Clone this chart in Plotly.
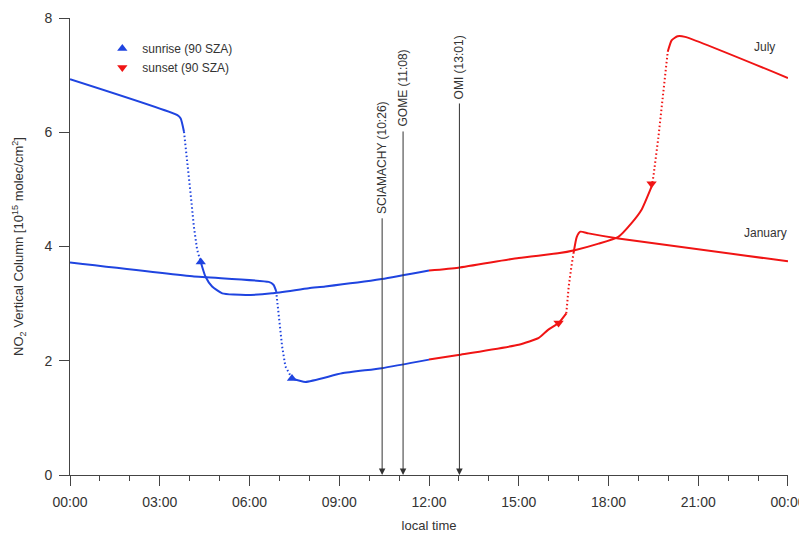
import plotly.graph_objects as go

BLUE = '#1f44e0'
RED = '#f01414'

# July curve (hours, NO2 VCD in 1e15 molec/cm2)
jul_am_t = [0, 3.59, 3.70, 3.81]
jul_am_v = [6.93, 6.30, 6.24, 6.01]
jul_rise_t = [3.81, 3.90, 4.03, 4.14, 4.25, 4.37]
jul_rise_v = [6.01, 5.51, 4.93, 4.35, 3.94, 3.73]
jul_day_t = [4.37, 4.53, 4.75, 5.09, 5.87, 6.75, 7.98, 8.53, 10.42, 12.0]
jul_day_v = [3.73, 3.47, 3.30, 3.18, 3.15, 3.18, 3.27, 3.30, 3.43, 3.58]
jul_pm_t = [12.0, 12.98, 15.0, 16.31, 16.9, 17.67, 18.33, 18.77, 19.1, 19.44]
jul_pm_v = [3.58, 3.63, 3.80, 3.88, 3.94, 4.05, 4.17, 4.41, 4.64, 5.05]
jul_set_t = [19.44, 19.5, 19.67, 19.83, 19.98]
jul_set_v = [5.05, 5.22, 5.92, 6.68, 7.41]
jul_night_t = [19.98, 20.11, 20.31, 20.56, 24.0]
jul_night_v = [7.41, 7.61, 7.68, 7.67, 6.95]

# January curve
jan_am_t = [0, 4.09, 6.64, 6.80, 6.89]
jan_am_v = [3.72, 3.48, 3.38, 3.33, 3.22]
jan_rise_t = [6.89, 7.0, 7.09, 7.2, 7.42]
jan_rise_v = [3.22, 2.71, 2.25, 1.90, 1.69]
jan_day_t = [7.42, 7.87, 9.09, 10.42, 12.0]
jan_day_v = [1.69, 1.63, 1.78, 1.87, 2.02]
jan_pm_t = [12.0, 12.98, 15.0, 15.67, 15.98, 16.33, 16.59]
jan_pm_v = [2.02, 2.10, 2.28, 2.40, 2.54, 2.66, 2.83]
jan_set_t = [16.59, 16.67, 16.76, 16.83]
jan_set_v = [2.83, 3.30, 3.65, 3.88]
jan_night_t = [16.83, 16.94, 17.06, 17.33, 18.33, 24.0]
jan_night_v = [3.88, 4.17, 4.26, 4.23, 4.14, 3.74]

# sunrise / sunset (90 SZA) markers
rise_t = [4.37, 7.42]
rise_v = [3.73, 1.69]
set_t = [16.33, 19.44]
set_v = [2.66, 5.10]

# satellite overpass times
sat_names = ['SCIAMACHY (10:26)', 'GOME (11:08)', 'OMI (13:01)']
sat_t = [10 + 26 / 60, 11 + 8 / 60, 13 + 1 / 60]
sat_top = [4.52, 6.04, 6.53]

tick_vals = [0, 3, 6, 9, 12, 15, 18, 21, 24]
tick_text = ['00:00', '03:00', '06:00', '09:00', '12:00', '15:00', '18:00', '21:00', '00:00']

FONT = 'Arial, Liberation Sans, sans-serif'
TXT = '#333'

fig = go.Figure()

segments = [
    (jul_am_t, jul_am_v, BLUE, 'solid'),
    (jul_rise_t, jul_rise_v, BLUE, 'dot'),
    (jul_day_t, jul_day_v, BLUE, 'solid'),
    (jul_pm_t, jul_pm_v, RED, 'solid'),
    (jul_set_t, jul_set_v, RED, 'dot'),
    (jul_night_t, jul_night_v, RED, 'solid'),
    (jan_am_t, jan_am_v, BLUE, 'solid'),
    (jan_rise_t, jan_rise_v, BLUE, 'dot'),
    (jan_day_t, jan_day_v, BLUE, 'solid'),
    (jan_pm_t, jan_pm_v, RED, 'solid'),
    (jan_set_t, jan_set_v, RED, 'dot'),
    (jan_night_t, jan_night_v, RED, 'solid'),
]
for t, v, col, dash in segments:
    if dash == 'solid':
        ln = dict(color=col, width=2, shape='spline', smoothing=0.5)
    else:
        ln = dict(color=col, width=2, dash='1.5px,2.5px')
    fig.add_trace(go.Scatter(x=t, y=v, mode='lines', showlegend=False, line=ln))

fig.add_trace(go.Scatter(x=rise_t, y=rise_v, mode='markers', name='sunrise (90 SZA)',
                         marker=dict(symbol='triangle-up', size=9, color=BLUE)))
fig.add_trace(go.Scatter(x=set_t, y=set_v, mode='markers', name='sunset (90 SZA)',
                         marker=dict(symbol='triangle-down', size=9, color=RED)))

for name, t, top in zip(sat_names, sat_t, sat_top):
    fig.add_annotation(x=t, y=0, ax=t, ay=top, axref='x', ayref='y', text='',
                       showarrow=True, arrowhead=2, arrowsize=1.3, arrowwidth=1, arrowcolor='#333')
    fig.add_annotation(x=t, y=top, text=name, textangle=-90, showarrow=False,
                       xanchor='center', yanchor='bottom', yshift=1,
                       font=dict(family=FONT, size=12, color=TXT))

fig.add_annotation(x=23.2, y=7.49, text='July', showarrow=False, font=dict(family=FONT, size=12, color=TXT))
fig.add_annotation(x=23.25, y=4.24, text='January', showarrow=False, font=dict(family=FONT, size=12, color=TXT))

fig.update_xaxes(range=[-0.0005, 24.0005], tickvals=tick_vals, ticktext=tick_text, ticks='outside',
                 ticklen=10, tickcolor='#444', showline=True, linecolor='#444', linewidth=1,
                 showgrid=False, zeroline=False, automargin=False, ticklabelstandoff=4,
                 ticklabeloverflow='allow',
                 minor=dict(dtick=1, ticks='outside', ticklen=5, tickcolor='#444'),
                 tickfont=dict(family=FONT, size=14, color=TXT),
                 title=dict(text='local time', standoff=14,
                            font=dict(family=FONT, size=13, color=TXT)))
fig.update_yaxes(range=[0, 8], tickvals=[0, 2, 4, 6, 8], ticks='outside', ticklen=10, tickcolor='#444',
                 showline=True, linecolor='#444', linewidth=1, showgrid=False, zeroline=False,
                 automargin=False, ticklabelstandoff=4,
                 tickfont=dict(family=FONT, size=14, color=TXT),
                 title=dict(text='NO<sub>2</sub> Vertical Column [10<sup>15</sup> molec/cm<sup>2</sup>]',
                            standoff=17, font=dict(family=FONT, size=13, color=TXT)))

# the page body adds an 8px offset, so the figure is sized to sit inside the 807x533 window
fig.update_layout(width=799, height=525, plot_bgcolor='white', paper_bgcolor='white',
                  margin=dict(l=62, r=19, t=10, b=58),
                  legend=dict(x=0.045, y=0.965, xanchor='left', yanchor='top', bgcolor='rgba(0,0,0,0)',
                              font=dict(family=FONT, size=12, color=TXT), itemwidth=30,
                              tracegroupgap=0))

fig.write_html("out.html")
